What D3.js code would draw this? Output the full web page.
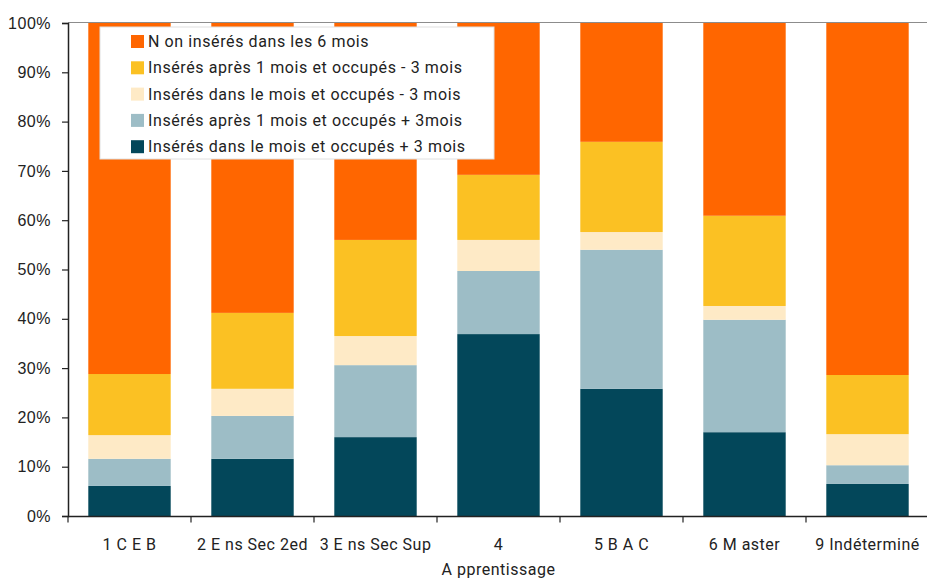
<!DOCTYPE html>
<html lang="fr">
<head>
    <meta charset="utf-8">
    <title>Insertion par niveau</title>
    <script type="text/javascript" src="https://d3js.org/d3.v7.min.js"></script>
    <style type="text/css">
        body { margin: 0; background: #fff; }
        svg { font-family: "Liberation Sans Narrow", "Roboto", sans-serif; font-size: 16px; fill: #222; }
    </style>
</head>
<body>
<script type="text/javascript">

    // categories (x axis), second line only for the 4th one
    var categories = ["1 C E B", "2 E ns Sec 2ed", "3 E ns Sec Sup", "4", "5 B A C", "6 M aster", "9 Indéterminé"];
    var subLabels = ["", "", "", "A pprentissage", "", "", ""];

    // series, bottom to top (percent)
    var seriesNames = [
        "Insérés dans le mois et occupés + 3 mois",
        "Insérés après 1 mois et occupés + 3mois",
        "Insérés dans le mois et occupés - 3 mois",
        "Insérés après 1 mois et occupés - 3 mois",
        "N on insérés dans les 6 mois"
    ];
    var dansPlus3   = [6.1, 11.6, 16.0, 36.9, 25.8, 17.0, 6.5];
    var apresPlus3  = [5.5, 8.7, 14.6, 12.8, 28.2, 22.8, 3.8];
    var dansMoins3  = [4.8, 5.5, 5.9, 6.3, 3.6, 2.8, 6.3];
    var apresMoins3 = [12.4, 15.4, 19.5, 13.2, 18.3, 18.3, 12.0];
    var nonInseres  = [71.2, 58.8, 44.0, 30.8, 24.1, 39.1, 71.4];
    var colors = ["#03475a", "#9dbdc6", "#feeac6", "#fbc123", "#ff6600"];

    var yTicks = [0, 10, 20, 30, 40, 50, 60, 70, 80, 90, 100];

    var W = 927, H = 579;
    var mLeft = 68, mRight = 929, mTop = 23, mBottom = 516;

    var svg = d3.select("body").append("svg")
        .attr("width", W)
        .attr("height", H);

    var rows = categories.map(function(c, i) {
        return { cat: c, s0: dansPlus3[i], s1: apresPlus3[i], s2: dansMoins3[i], s3: apresMoins3[i], s4: nonInseres[i] };
    });
    var stack = d3.stack().keys(["s0", "s1", "s2", "s3", "s4"]);
    var layers = stack(rows);

    var x = d3.scaleBand().domain(categories).range([mLeft, mRight]).paddingInner(0.33).paddingOuter(0.165);
    var y = d3.scaleLinear().domain([0, 100]).range([mBottom, mTop]);

    // top border of plot
    svg.append("line")
        .attr("x1", mLeft).attr("x2", W)
        .attr("y1", mTop - 0.5).attr("y2", mTop - 0.5)
        .attr("stroke", "#8c8c8c").attr("stroke-width", 1);

    svg.selectAll("g.layer")
        .data(layers)
        .enter().append("g")
        .attr("class", "layer")
        .attr("fill", function(d, i) { return colors[i]; })
        .selectAll("rect")
        .data(function(d) { return d; })
        .enter().append("rect")
        .attr("x", function(d) { return x(d.data.cat); })
        .attr("width", x.bandwidth())
        .attr("y", function(d) { return y(Math.min(d[1], 100)); })
        .attr("height", function(d) { return y(d[0]) - y(Math.min(d[1], 100)); });

    // y axis
    var yAxis = svg.append("g")
        .attr("transform", "translate(" + mLeft + ",0)")
        .call(d3.axisLeft(y).tickValues(yTicks).tickFormat(function(d) { return d + "%"; }).tickSize(6).tickPadding(11));
    yAxis.select(".domain").attr("stroke", "#222").attr("stroke-width", 1.5);
    yAxis.selectAll(".tick line").attr("stroke", "#222").attr("stroke-width", 1.2);
    yAxis.selectAll(".tick text")
        .attr("font-family", "inherit").attr("font-size", 16).attr("fill", "#222")
        .attr("letter-spacing", "0.5px");

    // x axis: ticks between categories
    var xAxisG = svg.append("g").attr("transform", "translate(0," + (mBottom + 0.5) + ")");
    xAxisG.append("line")
        .attr("x1", mLeft).attr("x2", W)
        .attr("stroke", "#222").attr("stroke-width", 1.5);
    var step = x.step();
    var x0 = x(categories[0]) - step * x.paddingOuter();
    xAxisG.selectAll("line.tk")
        .data(d3.range(categories.length + 1))
        .enter().append("line")
        .attr("class", "tk")
        .attr("x1", function(i) { return x0 + i * step; })
        .attr("x2", function(i) { return x0 + i * step; })
        .attr("y1", 0).attr("y2", 6)
        .attr("stroke", "#222").attr("stroke-width", 1.2);

    xAxisG.selectAll("text.cat")
        .data(categories)
        .enter().append("text")
        .attr("class", "cat")
        .attr("x", function(d) { return x(d) + x.bandwidth() / 2; })
        .attr("y", 33)
        .attr("text-anchor", "middle")
        .attr("letter-spacing", "0.5px")
        .text(function(d) { return d; });

    xAxisG.selectAll("text.sub")
        .data(categories)
        .enter().append("text")
        .attr("class", "sub")
        .attr("x", function(d) { return x(d) + x.bandwidth() / 2; })
        .attr("y", 58)
        .attr("text-anchor", "middle")
        .attr("letter-spacing", "0.5px")
        .text(function(d, i) { return subLabels[i]; });

    // legend, top series first
    var legend = svg.append("g").attr("transform", "translate(100,27)");
    legend.append("rect")
        .attr("width", 394).attr("height", 132)
        .attr("fill", "#fff").attr("stroke", "#e0e0e0").attr("stroke-width", 1);
    var order = [4, 3, 2, 1, 0];
    var item = legend.selectAll("g.item")
        .data(order)
        .enter().append("g")
        .attr("class", "item")
        .attr("transform", function(d, i) { return "translate(31," + (8 + i * 26.3) + ")"; });
    item.append("rect")
        .attr("width", 13).attr("height", 13)
        .attr("fill", function(d) { return colors[d]; });
    item.append("text")
        .attr("x", 17).attr("y", 12)
        .attr("letter-spacing", "0.6px")
        .text(function(d) { return seriesNames[d]; });

</script>
</body>
</html>
